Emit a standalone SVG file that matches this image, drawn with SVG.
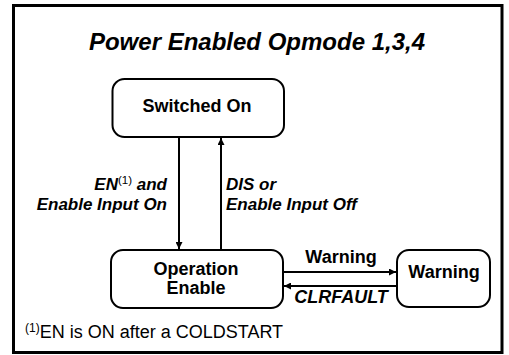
<svg xmlns="http://www.w3.org/2000/svg" width="509" height="355" viewBox="0 0 509 355">
<defs>
<style>
.box{fill:#fff;stroke:#000;stroke-width:2}
.t{font-family:"Liberation Sans",Arial,sans-serif;font-weight:bold;fill:#000}
.i{font-style:italic}
.ln{stroke:#000;stroke-width:2;fill:none}
</style>
<marker id="ah" viewBox="0 0 10 10" refX="10" refY="5" markerWidth="8" markerHeight="7" markerUnits="userSpaceOnUse" orient="auto">
<path d="M0,0 L10,5 L0,10 z" fill="#000"/>
</marker>
</defs>
<rect width="509" height="355" fill="#fff"/>
<rect x="13.5" y="5.5" width="488.5" height="347" fill="none" stroke="#000" stroke-width="3"/>
<text class="t i" x="257" y="50" font-size="24" text-anchor="middle">Power Enabled Opmode 1,3,4</text>
<g id="connectors">
<line class="ln" x1="179" y1="137" x2="179" y2="249" marker-end="url(#ah)"/>
<line class="ln" x1="221" y1="250" x2="221" y2="138" marker-end="url(#ah)"/>
<line class="ln" x1="283" y1="272" x2="396" y2="272" marker-end="url(#ah)"/>
<line class="ln" x1="397" y1="286" x2="284" y2="286" marker-end="url(#ah)"/>
<text class="t i" font-size="17" text-anchor="end"><tspan x="167" y="190">EN<tspan font-size="11.5" font-weight="normal" font-style="normal" dy="-6">(1)</tspan><tspan dy="6"> and</tspan></tspan><tspan x="167" y="209.5">Enable Input On</tspan></text>
<text class="t i" font-size="17"><tspan x="226" y="190">DIS or</tspan><tspan x="226" y="209.5">Enable Input Off</tspan></text>
<text class="t" x="341" y="263" font-size="18" text-anchor="middle">Warning</text>
<text class="t i" x="341" y="303" font-size="18" text-anchor="middle">CLRFAULT</text>
</g>
<g id="switched-on">
<rect class="box" x="112.5" y="79" width="171.5" height="58" rx="12"/>
<text class="t" x="197" y="112" font-size="18" text-anchor="middle">Switched On</text>
</g>
<g id="operation-enable">
<rect class="box" x="111" y="250" width="172" height="58" rx="12"/>
<text class="t" font-size="18" text-anchor="middle"><tspan x="196" y="275">Operation</tspan><tspan x="196" y="294">Enable</tspan></text>
</g>
<g id="warning">
<rect class="box" x="397" y="250" width="93" height="57" rx="12"/>
<text class="t" x="444" y="278" font-size="18" text-anchor="middle">Warning</text>
</g>
<text x="25" y="338" font-family="'Liberation Sans',Arial,sans-serif" font-size="18"><tspan font-size="12" dy="-6">(1)</tspan><tspan dy="6">EN is ON after a COLDSTART</tspan></text>
</svg>
